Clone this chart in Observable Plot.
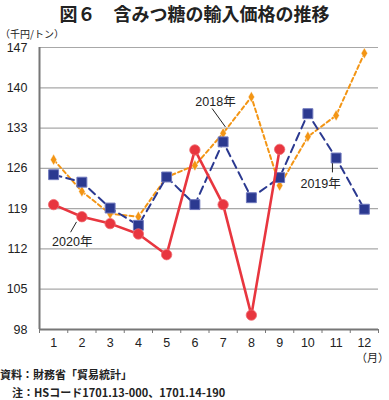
<!DOCTYPE html>
<html><head><meta charset="utf-8">
<script src="https://cdn.jsdelivr.net/npm/d3@7"></script>
<script src="https://cdn.jsdelivr.net/npm/@observablehq/plot@0.6"></script>
<style>
body{margin:0;background:#fff;}
#wrap{position:relative;width:389px;height:400px;overflow:hidden;font-family:"Liberation Sans","Noto Sans CJK JP",sans-serif;color:#222;}
.t{position:absolute;white-space:nowrap;line-height:1;}
</style></head>
<body><div id="wrap"></div>
<script>
const months = [1,2,3,4,5,6,7,8,9,10,11,12];
const y2018 = [127.5,122.0,118.1,117.6,124.5,126.5,132.1,138.4,123.0,131.5,135.2,146.0];
const y2019 = [124.9,123.6,119.1,116.1,124.5,119.7,130.6,120.9,124.4,135.5,127.8,118.9];
const y2020 = [119.7,117.6,116.4,114.6,111.0,129.2,119.7,100.5,129.3];
const yTicks = [98,105,112,119,126,133,140,147];
const labels = [
  {text:"2018年", x:6.73, y:137.5, x1:6.61, y1:136.4, x2:7.08, y2:133.2},
  {text:"2019年", x:10.45, y:123.2, x1:10.87, y1:126.9, x2:10.87, y2:125.3},
  {text:"2020年", x:1.66, y:113.2, x1:1.60, y1:114.9, x2:1.81, y2:116.7}
];
const title = "図６　含みつ糖の輸入価格の推移";
const unitLabel = "（千円/トン）";
const monthLabel = "（月）";
const source = "資料：財務省「貿易統計」";
const note = "注：HSコード1701.13-000、1701.14-190";

const cRed = "#e8363f", cBlue = "#2b3990", cOrange = "#f39514";
const toRows = (vals) => vals.map((v,i)=>({m:months[i], v}));
const d18 = toRows(y2018), d19 = toRows(y2019), d20 = toRows(y2020);
const bounds = d3.range(0.5, 13, 1);

const chart = Plot.plot({
  width: 389, height: 400,
  marginLeft: 39, marginRight: 11, marginTop: 47, marginBottom: 71,
  style: {fontFamily: '"Liberation Sans","Noto Sans CJK JP",sans-serif', fontSize: "12px", color: "#222", background: "#fff"},
  x: {type: "linear", domain: [0.5, 12.5]},
  y: {domain: [98, 147]},
  marks: [
    Plot.ruleY(yTicks.slice(1), {stroke: "#a8a8a8", strokeWidth: 1.2}),
    Plot.axisY({ticks: yTicks, tickSize: 0, tickPadding: 12, label: null, fontSize: 12.5}),
    Plot.axisX({ticks: bounds, tickSize: 4, tickFormat: () => "", label: null, stroke: "#777"}),
    Plot.axisX({ticks: months, tickSize: 0, tickPadding: 9, label: null, fontSize: 12.5}),
    Plot.ruleX([0.5], {stroke: "#777", strokeWidth: 2}),
    Plot.ruleY([98], {stroke: "#777", strokeWidth: 2}),
    Plot.lineY(d18, {x: "m", y: "v", stroke: cOrange, strokeWidth: 2, strokeDasharray: "4,3"}),
    Plot.dot(d18, {x: "m", y: "v", symbol: "diamond", r: 3.4, fill: cOrange, stroke: "#fff", strokeWidth: 0.5}),
    Plot.lineY(d19, {x: "m", y: "v", stroke: cBlue, strokeWidth: 2, strokeDasharray: "8,5"}),
    Plot.dot(d19, {x: "m", y: "v", symbol: "square", r: 5.6, fill: cBlue, stroke: "#6f78bd", strokeWidth: 1}),
    Plot.lineY(d20, {x: "m", y: "v", stroke: cRed, strokeWidth: 2.6}),
    Plot.dot(d20, {x: "m", y: "v", r: 5.2, fill: cRed, stroke: "#ef6a70", strokeWidth: 0.8}),
    Plot.link(labels, {x1: "x1", y1: "y1", x2: "x2", y2: "y2", stroke: "#222", strokeWidth: 1}),
    Plot.text(labels, {x: "x", y: "y", text: "text", fontSize: 12.5, fill: "#222"})
  ]
});
const wrap = document.getElementById("wrap");
wrap.appendChild(chart);
function addText(txt, css){ const d=document.createElement("div"); d.className="t"; d.textContent=txt; d.style.cssText+=css; wrap.appendChild(d); }
addText(title, "left:0;width:389px;text-align:center;top:4px;font-size:18px;font-weight:bold;font-family:'Noto Sans CJK JP',sans-serif;color:#222;");
addText(unitLabel, "left:0;top:29px;font-size:10px;font-family:'Noto Sans CJK JP',sans-serif;");
addText(monthLabel, "right:0;top:352px;font-size:11px;font-family:'Noto Sans CJK JP',sans-serif;");
addText(source, "left:0;top:369px;font-size:11px;font-weight:bold;font-family:'Noto Sans CJK JP',sans-serif;");
addText(note, "left:12px;top:387px;font-size:11px;font-weight:bold;font-family:'Noto Sans CJK JP',sans-serif;");
</script></body></html>
